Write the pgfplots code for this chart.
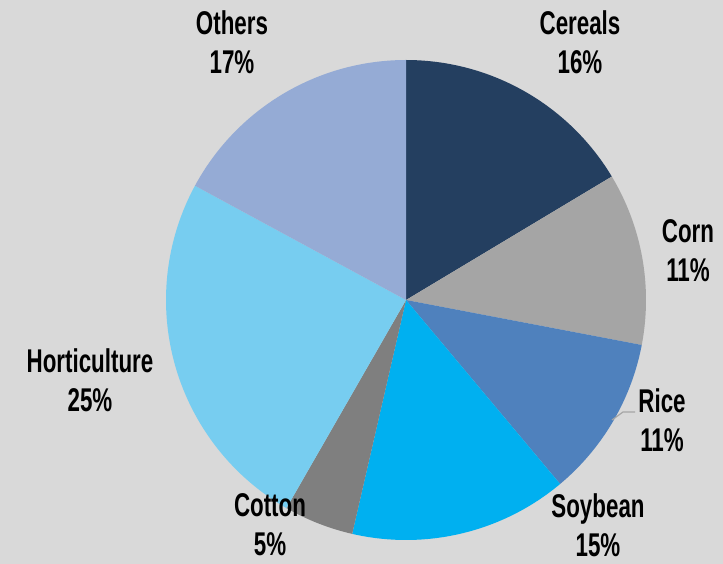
\documentclass[border=0pt]{standalone}
\usepackage{pgfplots}
\pgfplotsset{compat=1.18}
\usepackage{fontspec}
\setmainfont{Liberation Sans}[FakeStretch=0.68, UprightFont=* Bold]
\definecolor{bg}{HTML}{D9D9D9}
\definecolor{cCereals}{HTML}{243F60}
\definecolor{cCorn}{HTML}{A5A5A5}
\definecolor{cRice}{HTML}{4F81BD}
\definecolor{cSoy}{HTML}{00B0F0}
\definecolor{cCotton}{HTML}{7F7F7F}
\definecolor{cHort}{HTML}{77CDF0}
\definecolor{cOthers}{HTML}{95ABD5}
% slice: colour, cumulative share at start (%), cumulative share at end (%)
\newcommand{\slice}[3]{%
  \addplot[fill=#1, draw=none, domain={90-3.6*#3}:{90-3.6*#2}, samples=80, variable=\t]
    ({406+240*cos(\t)},{264+240*sin(\t)}) -- (axis cs:406,264) -- cycle;}
\begin{document}
\begin{tikzpicture}
\fill[bg] (0,0) rectangle (723bp,564bp);
\begin{axis}[
  at={(0,0)}, anchor=south west,
  scale only axis, width=723bp, height=564bp,
  xmin=0, xmax=723, ymin=0, ymax=564,
  hide axis, clip=false,
]
% shares: Cereals 16.4, Corn 11.6, Rice 10.9, Soybean 14.7, Cotton 4.7, Horticulture 24.6, Others 17.1
\slice{cCereals}{0}{16.4}
\slice{cCorn}{16.4}{28.0}
\slice{cRice}{28.0}{38.9}
\slice{cSoy}{38.9}{53.6}
\slice{cCotton}{53.6}{58.3}
\slice{cHort}{58.3}{82.9}
\slice{cOthers}{82.9}{100}
\draw[color=cCorn, line width=1.2pt] (axis cs:612,144) -- (axis cs:623,152) -- (axis cs:635,152);
\begin{scope}[every node/.style={align=center, font=\fontsize{33}{39}\selectfont, text=black, inner sep=0pt}]
\node at (axis cs:232,521.5) {Others\\17\%};
\node at (axis cs:580,522) {Cereals\\16\%};
\node at (axis cs:688,313) {Corn\\11\%};
\node at (axis cs:662,144) {Rice\\11\%};
\node at (axis cs:598,39) {Soybean\\15\%};
\node at (axis cs:270,39) {Cotton\\5\%};
\node at (axis cs:90,184) {Horticulture\\25\%};
\end{scope}
\end{axis}
\end{tikzpicture}
\end{document}
